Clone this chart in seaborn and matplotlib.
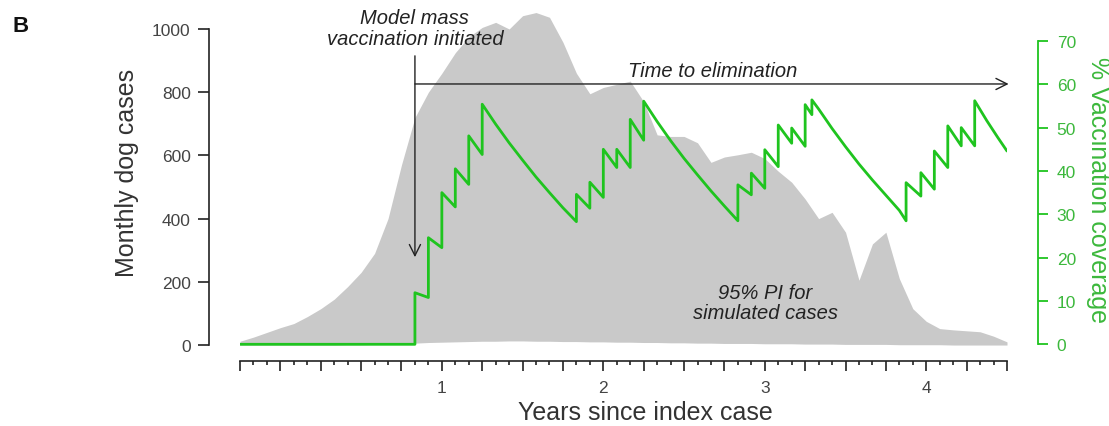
import numpy as np
import pandas as pd
import matplotlib
matplotlib.use("Agg")
import matplotlib.pyplot as plt
import seaborn as sns

# ---------------- data ----------------
# 95% prediction interval of simulated monthly dog cases (month since index case)
pi_month = list(range(-3, 55))
pi_upper = [12, 25, 40, 55, 68, 90, 115, 145, 185, 230, 290, 400, 570, 720, 800,
            860, 925, 975, 1005, 1021, 1000, 1042, 1052, 1037, 958, 860, 795, 815,
            825, 835, 770, 665, 660, 660, 640, 578, 595, 602, 610, 590, 550, 515,
            462, 400, 420, 357, 205, 320, 357, 210, 115, 75, 52, 48, 45, 42, 28, 10]
pi_lower = [0, 0, 0, 0, 0, 0, 0, 0, 1, 1, 2, 3, 4, 6, 8, 9, 10, 11, 12, 12,
            13, 13, 12, 12, 11, 11, 10, 10, 9, 9, 8, 8, 7, 7, 6, 6, 5, 5, 5, 4,
            4, 4, 3, 3, 3, 2, 2, 2, 2, 1, 1, 1, 1, 0, 0, 0, 0, 0]

# modelled vaccination coverage (%), month since index case
cov_month = [-3, 10,
             10, 11, 11, 12, 12, 13, 13, 14, 14, 15, 15,
             16, 17, 18, 19, 20, 21, 22,
             22, 23, 23, 24, 24, 25, 25, 26, 26, 27, 27,
             28, 29, 30, 31, 32, 33, 34,
             34, 35, 35, 36, 36, 37, 37, 38, 38, 39, 39, 39.5, 39.5,
             40, 41, 42, 43, 44, 45, 46, 46.5,
             46.5, 47.6, 47.6, 48.6, 48.6, 49.6, 49.6, 50.6, 50.6, 51.6, 51.6,
             52.5, 53.3, 54]
cov_value = [0, 0,
             11.9, 10.8, 24.6, 22.3, 35.0, 31.7, 40.5, 36.9, 48.1, 43.8, 55.4,
             50.8, 46.5, 42.5, 38.6, 35.0, 31.5, 28.3,
             34.6, 31.4, 37.4, 33.9, 45.0, 40.8, 45.0, 40.8, 51.9, 47.1, 56.1,
             51.4, 47.0, 42.9, 39.1, 35.4, 31.9, 28.5,
             36.8, 34.5, 39.5, 36.0, 44.9, 41.0, 50.6, 46.4, 49.9, 45.7, 55.3, 53.0, 56.4,
             54.3, 49.8, 45.6, 41.6, 37.9, 34.4, 30.9, 28.5,
             37.3, 34.2, 39.6, 35.8, 44.6, 40.8, 50.4, 45.8, 50.0, 45.8, 56.2,
             51.6, 47.8, 44.6]

x_tick_labels = ["1", "2", "3", "4"]
vax_start_month = 10

pi_df = pd.DataFrame({"year": np.array(pi_month) / 12.0,
                      "upper": pi_upper, "lower": pi_lower})
cov_df = pd.DataFrame({"year": np.array(cov_month) / 12.0, "coverage": cov_value})

# ---------------- style ----------------
sns.set_theme(style="ticks")
plt.rcParams["font.family"] = ["Liberation Sans", "DejaVu Sans"]

GREEN = "#1fc41f"
GREEN_TXT = "#3cb83c"
GREY = "#c9c9c9"
DARK = "#222222"
TICKTXT = "#444444"

W, H = 1109, 427
fig = plt.figure(figsize=(W / 100, H / 100), dpi=100)
ax = fig.add_axes([240 / W, (H - 349.2) / H, 767 / W, 344.5 / H])
ax.patch.set_alpha(0)

ax.fill_between(pi_df["year"], pi_df["lower"], pi_df["upper"], color=GREY, lw=0, zorder=1)
ax.set_xlim(-0.25, 4.5)
ax.set_ylim(-10, 1080)

# left axis styling
for s in ["top", "right"]:
    ax.spines[s].set_visible(False)
ax.spines["left"].set_position(("outward", 22.3))
ax.spines["left"].set_bounds(0, 1000)
ax.spines["bottom"].set_position(("outward", 9.2))
ax.spines["bottom"].set_bounds(-0.25, 4.5)
for s in ["left", "bottom"]:
    ax.spines[s].set_color(DARK)
    ax.spines[s].set_linewidth(1.2)

ax.set_yticks([0, 200, 400, 600, 800, 1000])
ax.tick_params(axis="y", length=7.7, width=1.2, pad=5.5, labelsize=12.5,
               labelcolor=TICKTXT, color=DARK)

major = np.arange(-0.25, 4.5001, 0.25)
labels = []
for v in major:
    if abs(v - round(v)) < 1e-9 and 1 <= round(v) <= 4:
        labels.append(x_tick_labels[int(round(v)) - 1])
    else:
        labels.append("")
ax.set_xticks(major)
ax.set_xticklabels(labels)
ax.set_xticks(np.arange(-3, 55) / 12.0, minor=True)
ax.tick_params(axis="x", which="major", length=7.5, width=1.2, pad=6,
               labelsize=12.5, labelcolor=TICKTXT, color=DARK)
ax.tick_params(axis="x", which="minor", length=3, width=1.2, color=DARK)

ax.set_xlabel("Years since index case", fontsize=18, color="#333333")
ax.xaxis.set_label_coords(0.529, -0.185)
ax.xaxis.label.set_va("center")
ax.set_ylabel("Monthly dog cases", fontsize=18, color="#333333")
ax.yaxis.set_label_coords(-0.147, 0.513)
ax.yaxis.label.set_va("center")

# right axis: coverage
ax2 = ax.twinx()
ax2.patch.set_alpha(0)
sns.lineplot(data=cov_df, x="year", y="coverage", ax=ax2, sort=False,
             estimator=None, color=GREEN, lw=2.0, zorder=5)
ax2.set_xlim(-0.25, 4.5)
ax2.set_ylim(-0.9, 78.6)
for s in ["top", "left", "bottom"]:
    ax2.spines[s].set_visible(False)
ax2.spines["right"].set_position(("outward", 22.3))
ax2.spines["right"].set_bounds(0, 70)
ax2.spines["right"].set_color(GREEN)
ax2.spines["right"].set_linewidth(1.3)
ax2.set_yticks(range(0, 71, 10))
ax2.tick_params(axis="y", length=7.5, width=1.3, pad=6, labelsize=12.5,
                labelcolor=GREEN_TXT, color=GREEN)
ax2.set_xlabel("")
ax2.set_ylabel("% Vaccination coverage", fontsize=18, color=GREEN_TXT, rotation=270)
ax2.yaxis.set_label_coords(1.119, 0.461)
ax2.yaxis.label.set_va("center")

# annotations (in case-axis coordinates)
vx = vax_start_month / 12.0
arrow_kw = dict(arrowstyle="->,head_length=0.5,head_width=0.25", color=DARK,
                lw=1.0, shrinkA=0, shrinkB=0, mutation_scale=16)
ax.annotate("", xy=(vx, 278), xytext=(vx, 915), arrowprops=arrow_kw, zorder=6)
ax.annotate("", xy=(4.51, 826), xytext=(vx, 826), arrowprops=arrow_kw,
            annotation_clip=False, zorder=6)

ax.text(vx, 1003, "Model mass\nvaccination initiated", ha="center", va="center",
        fontsize=14.5, style="italic", color=DARK, linespacing=1.1, clip_on=False)
ax.text(2.676, 868, "Time to elimination", ha="center", va="center",
        fontsize=14.5, style="italic", color=DARK)
ax.text(3.003, 135, "95% PI for\nsimulated cases", ha="center", va="center",
        fontsize=14.5, style="italic", color=DARK, linespacing=1.1)

fig.text(13 / W, 1 - 27 / H, "B", fontsize=16, fontweight="bold", ha="left",
         va="center", color="#111111")

fig.savefig("out.png", dpi=100)
